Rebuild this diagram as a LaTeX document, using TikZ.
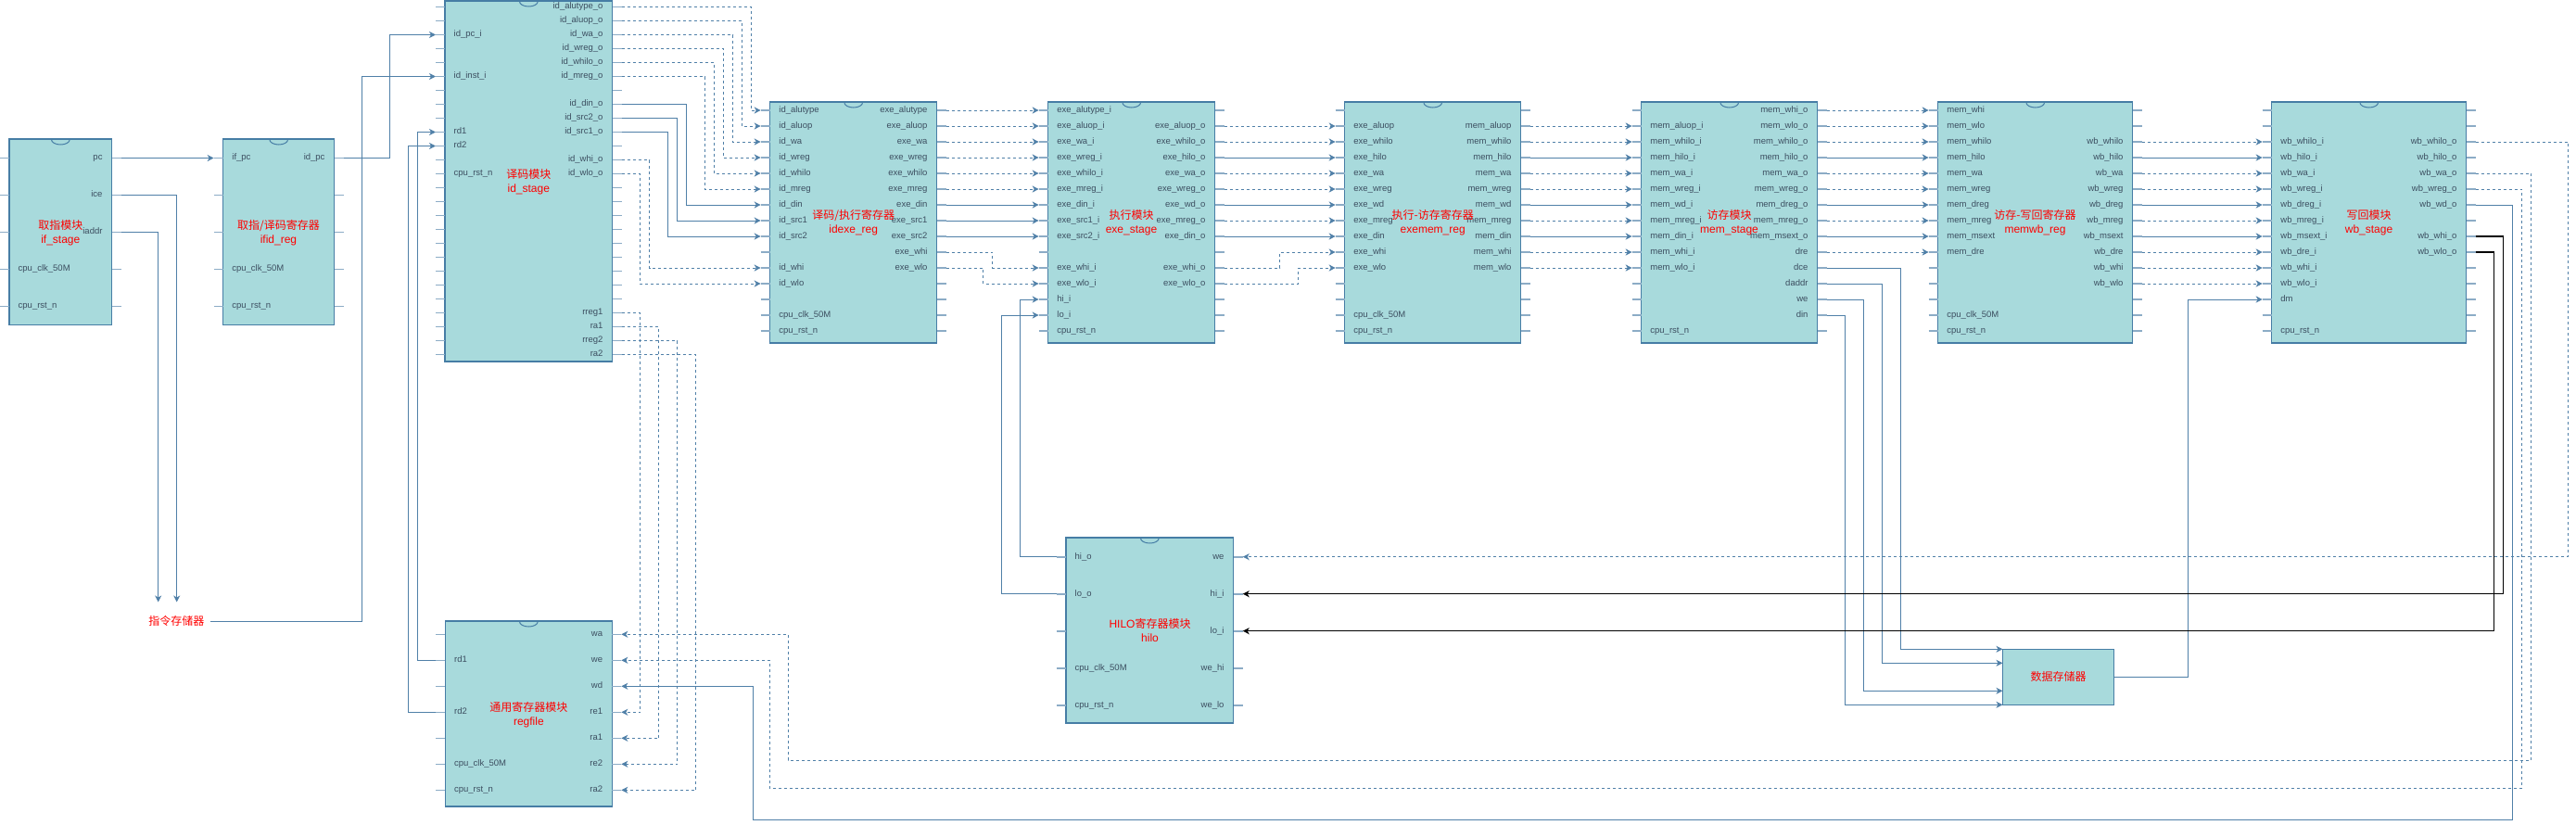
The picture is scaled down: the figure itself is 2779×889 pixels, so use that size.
\documentclass[tikz,border=0pt]{standalone}
\usepackage{fontspec}
\setmainfont{Liberation Sans}
\newfontfamily\cjk{Noto Sans CJK SC}
\usetikzlibrary{calc,arrows.meta}
\definecolor{boxfill}{RGB}{168,218,220}
\definecolor{boxline}{RGB}{70,125,165}
\definecolor{stubc}{RGB}{140,172,198}
\definecolor{sigc}{RGB}{80,128,168}
\definecolor{pintext}{RGB}{60,78,96}
\definecolor{redc}{RGB}{255,0,0}
\tikzset{
  compbox/.style={draw=boxline, fill=boxfill, line width=1.1pt, inner sep=0pt, outer sep=0pt},
  boxedge/.style={draw=boxline, line width=1pt},
  stub/.style={draw=stubc, line width=1.6pt},
  sig/.style={draw=sigc, line width=1pt},
  dsig/.style={sig, dash pattern=on 3pt off 3pt},
  blk/.style={draw=black, line width=1.1pt},
  arr/.style={-{Stealth[length=7pt,width=7pt,inset=2pt]}},
  pinl/.style={text=pintext, font=\fontsize{9.5}{11}\selectfont, inner sep=0pt, text height=6.6pt, text depth=2pt},
  redlab/.style={text=redc, font=\fontsize{12}{15}\selectfont, align=center, inner sep=0pt}
}
\newcommand\comp[8]{%
  \node[compbox, anchor=north west, minimum width={(#4-#2)*1pt}, minimum height={(#5-#3)*1pt}] (#1) at (#2,#3) {};
  \draw[boxedge] ($(#1.north)+(-10,0)$) .. controls ($(#1.north)+(-10,8)$) and ($(#1.north)+(10,8)$) .. ($(#1.north)+(10,0)$);
  \foreach \k in {0,...,#8}{%
    \pgfmathsetmacro\yy{#6+#7*\k}%
    \coordinate (#1-L\k) at (#2-10,\yy);
    \coordinate (#1-R\k) at (#4+10,\yy);
    \draw[stub] (#1-L\k) -- ++(10,0);
    \draw[stub] (#1-R\k) -- ++(-10,0);
  }%
}
\newcommand\lpins[2]{\foreach \i/\t in {#2}{\node[pinl,anchor=west] (#1-lt\i) at ($(#1-L\i)+(19.5,0)$) {\t};}}
\newcommand\rpins[2]{\foreach \i/\t in {#2}{\node[pinl,anchor=east] (#1-rt\i) at ($(#1-R\i)+(-20,0)$) {\t};}}
\begin{document}
\begin{tikzpicture}[x=1pt,y=-1pt]
\path[fill=white] (0,0) rectangle (2779,889);
\useasboundingbox (0,0) rectangle (2779,889);

% ---------- components ----------
\comp{ifs}{10}{150}{120.7}{350.7}{170.5}{40}{4}
\comp{ifid}{240.7}{150}{360.7}{350.7}{170.5}{40}{4}
\comp{ids}{480}{1}{660.7}{390}{7.5}{15}{25}
\comp{ide}{830.7}{110}{1010.7}{370}{119}{17}{14}
\comp{exe}{1130.7}{110}{1310.7}{370}{119}{17}{14}
\comp{exm}{1450.7}{110}{1640.7}{370}{119}{17}{14}
\comp{mem}{1770.7}{110}{1960.7}{370}{119}{17}{14}
\comp{mwb}{2090.7}{110}{2300.7}{370}{119}{17}{14}
\comp{wbs}{2450.7}{110}{2660.7}{370}{119}{17}{14}
\comp{rgf}{480.4}{670}{660.3}{870}{684.3}{28}{6}
\comp{hlo}{1150}{580}{1330.7}{780}{600.7}{40}{4}
\node[compbox, anchor=north west, minimum width=120pt, minimum height=60pt] (dmem) at (2160.5,700.3) {};
\node[redlab] (dmem-t) at (dmem.center) {\cjk 数据存储器};
\node[redlab, inner sep=0pt] (imem) at (190.3,670) {\cjk 指令存储器};

% ---------- pin labels ----------
\lpins{ifs}{3/cpu\_clk\_50M,4/cpu\_rst\_n}
\rpins{ifs}{0/pc,1/ice,2/iaddr}
\lpins{ifid}{0/if\_pc,3/cpu\_clk\_50M,4/cpu\_rst\_n}
\rpins{ifid}{0/id\_pc}
\lpins{ids}{2/id\_pc\_i,5/id\_inst\_i,9/rd1,10/rd2,12/cpu\_rst\_n}
\rpins{ids}{0/id\_alutype\_o,1/id\_aluop\_o,2/id\_wa\_o,3/id\_wreg\_o,4/id\_whilo\_o,5/id\_mreg\_o,7/id\_din\_o,8/id\_src2\_o,9/id\_src1\_o,11/id\_whi\_o,12/id\_wlo\_o,22/rreg1,23/ra1,24/rreg2,25/ra2}
\lpins{ide}{0/id\_alutype,1/id\_aluop,2/id\_wa,3/id\_wreg,4/id\_whilo,5/id\_mreg,6/id\_din,7/id\_src1,8/id\_src2,10/id\_whi,11/id\_wlo,13/cpu\_clk\_50M,14/cpu\_rst\_n}
\rpins{ide}{0/exe\_alutype,1/exe\_aluop,2/exe\_wa,3/exe\_wreg,4/exe\_whilo,5/exe\_mreg,6/exe\_din,7/exe\_src1,8/exe\_src2,9/exe\_whi,10/exe\_wlo}
\lpins{exe}{0/exe\_alutype\_i,1/exe\_aluop\_i,2/exe\_wa\_i,3/exe\_wreg\_i,4/exe\_whilo\_i,5/exe\_mreg\_i,6/exe\_din\_i,7/exe\_src1\_i,8/exe\_src2\_i,10/exe\_whi\_i,11/exe\_wlo\_i,12/hi\_i,13/lo\_i,14/cpu\_rst\_n}
\rpins{exe}{1/exe\_aluop\_o,2/exe\_whilo\_o,3/exe\_hilo\_o,4/exe\_wa\_o,5/exe\_wreg\_o,6/exe\_wd\_o,7/exe\_mreg\_o,8/exe\_din\_o,10/exe\_whi\_o,11/exe\_wlo\_o}
\lpins{exm}{1/exe\_aluop,2/exe\_whilo,3/exe\_hilo,4/exe\_wa,5/exe\_wreg,6/exe\_wd,7/exe\_mreg,8/exe\_din,9/exe\_whi,10/exe\_wlo,13/cpu\_clk\_50M,14/cpu\_rst\_n}
\rpins{exm}{1/mem\_aluop,2/mem\_whilo,3/mem\_hilo,4/mem\_wa,5/mem\_wreg,6/mem\_wd,7/mem\_mreg,8/mem\_din,9/mem\_whi,10/mem\_wlo}
\lpins{mem}{1/mem\_aluop\_i,2/mem\_whilo\_i,3/mem\_hilo\_i,4/mem\_wa\_i,5/mem\_wreg\_i,6/mem\_wd\_i,7/mem\_mreg\_i,8/mem\_din\_i,9/mem\_whi\_i,10/mem\_wlo\_i,14/cpu\_rst\_n}
\rpins{mem}{0/mem\_whi\_o,1/mem\_wlo\_o,2/mem\_whilo\_o,3/mem\_hilo\_o,4/mem\_wa\_o,5/mem\_wreg\_o,6/mem\_dreg\_o,7/mem\_mreg\_o,8/mem\_msext\_o,9/dre,10/dce,11/daddr,12/we,13/din}
\lpins{mwb}{0/mem\_whi,1/mem\_wlo,2/mem\_whilo,3/mem\_hilo,4/mem\_wa,5/mem\_wreg,6/mem\_dreg,7/mem\_mreg,8/mem\_msext,9/mem\_dre,13/cpu\_clk\_50M,14/cpu\_rst\_n}
\rpins{mwb}{2/wb\_whilo,3/wb\_hilo,4/wb\_wa,5/wb\_wreg,6/wb\_dreg,7/wb\_mreg,8/wb\_msext,9/wb\_dre,10/wb\_whi,11/wb\_wlo}
\lpins{wbs}{2/wb\_whilo\_i,3/wb\_hilo\_i,4/wb\_wa\_i,5/wb\_wreg\_i,6/wb\_dreg\_i,7/wb\_mreg\_i,8/wb\_msext\_i,9/wb\_dre\_i,10/wb\_whi\_i,11/wb\_wlo\_i,12/dm,14/cpu\_rst\_n}
\rpins{wbs}{2/wb\_whilo\_o,3/wb\_hilo\_o,4/wb\_wa\_o,5/wb\_wreg\_o,6/wb\_wd\_o,8/wb\_whi\_o,9/wb\_wlo\_o}
\lpins{rgf}{1/rd1,3/rd2,5/cpu\_clk\_50M,6/cpu\_rst\_n}
\rpins{rgf}{0/wa,1/we,2/wd,3/re1,4/ra1,5/re2,6/ra2}
\lpins{hlo}{0/hi\_o,1/lo\_o,3/cpu\_clk\_50M,4/cpu\_rst\_n}
\rpins{hlo}{0/we,1/hi\_i,2/lo\_i,3/we\_hi,4/we\_lo}

% ---------- block titles ----------
\node[redlab] (ifs-t) at (65.3,251) {{\cjk 取指模块}\\if\_stage};
\node[redlab] (ifid-t) at (300.5,251) {{\cjk 取指/译码寄存器}\\ifid\_reg};
\node[redlab] (ids-t) at (570.3,196) {{\cjk 译码模块}\\id\_stage};
\node[redlab] (ide-t) at (920.7,240) {{\cjk 译码/执行寄存器}\\idexe\_reg};
\node[redlab] (exe-t) at (1220.5,240) {{\cjk 执行模块}\\exe\_stage};
\node[redlab] (exm-t) at (1545.7,240) {{\cjk 执行-访存寄存器}\\exemem\_reg};
\node[redlab] (mem-t) at (1865.5,240) {{\cjk 访存模块}\\mem\_stage};
\node[redlab] (mwb-t) at (2195.5,240) {{\cjk 访存-写回寄存器}\\memwb\_reg};
\node[redlab] (wbs-t) at (2555.5,240) {{\cjk 写回模块}\\wb\_stage};
\node[redlab] (rgf-t) at (570.4,771) {{\cjk 通用寄存器模块}\\regfile};
\node[redlab] (hlo-t) at (1240.5,680) {HILO{\cjk 寄存器模块}\\hilo};

% ---------- fetch / decode ----------
\coordinate (ima) at (170.7,649.5);
\coordinate (imb) at (190.7,649.5);
\draw[sig,arr] (ifs-R0) -- (ifid-L0);
\draw[sig,arr] (ifs-R1) -| (imb);
\draw[sig,arr] (ifs-R2) -| (ima);
\draw[sig,arr] ([xshift=6pt]imem.east) -| (390.7,82.5) -- (ids-L5);
\draw[sig,arr] (ifid-R0) -- ++(50,0) |- (ids-L2);
\draw[sig,arr] (rgf-L1) -- ++(-20,0) |- (ids-L9);
\draw[sig,arr] (rgf-L3) -- ++(-30,0) |- (ids-L10);

% id_stage -> idexe_reg
\foreach \a/\b/\d in {0/0/140,1/1/130,2/2/120,3/3/110,4/4/100,5/5/90,11/10/30,12/11/20}
  \draw[dsig,arr] (ids-R\a) -- ++(\d,0) |- (ide-L\b);
\foreach \a/\b/\d in {7/6/70,8/7/60,9/8/50}
  \draw[sig,arr] (ids-R\a) -- ++(\d,0) |- (ide-L\b);
% id_stage -> regfile
\foreach \a/\b/\d in {22/3/20,23/4/40,24/5/60,25/6/80}
  \draw[dsig,arr] (ids-R\a) -- ++(\d,0) |- (rgf-R\b);

% idexe_reg -> exe_stage
\foreach \k in {0,...,5} \draw[dsig,arr] (ide-R\k) -- (exe-L\k);
\foreach \k in {6,7,8} \draw[sig,arr] (ide-R\k) -- (exe-L\k);
\draw[dsig,arr] (ide-R9) -- ++(50,0) |- (exe-L10);
\draw[dsig,arr] (ide-R10) -- ++(40,0) |- (exe-L11);
\draw[sig,arr] (hlo-L0) -- ++(-40,0) |- (exe-L12);
\draw[sig,arr] (hlo-L1) -- ++(-60,0) |- (exe-L13);

% exe_stage -> exemem_reg
\foreach \k in {1,2,4,5,7} \draw[dsig,arr] (exe-R\k) -- (exm-L\k);
\foreach \k in {3,6,8} \draw[sig,arr] (exe-R\k) -- (exm-L\k);
\draw[dsig,arr] (exe-R10) -- ++(60,0) |- (exm-L9);
\draw[dsig,arr] (exe-R11) -- ++(80,0) |- (exm-L10);

% exemem_reg -> mem_stage
\foreach \k in {1,2,4,5,7,9,10} \draw[dsig,arr] (exm-R\k) -- (mem-L\k);
\foreach \k in {3,6,8} \draw[sig,arr] (exm-R\k) -- (mem-L\k);

% mem_stage -> memwb_reg
\foreach \k in {0,1,2,4,5,7,9} \draw[dsig,arr] (mem-R\k) -- (mwb-L\k);
\foreach \k in {3,6,8} \draw[sig,arr] (mem-R\k) -- (mwb-L\k);

% mem_stage -> data memory
\coordinate (dm1) at (dmem.north west);
\coordinate (dm2) at ($(dmem.north west)+(0,15)$);
\coordinate (dm3) at ($(dmem.north west)+(0,45)$);
\coordinate (dm4) at (dmem.south west);
\draw[sig,arr] (mem-R10) -- ++(80,0) |- (dm1);
\draw[sig,arr] (mem-R11) -- ++(60,0) |- (dm2);
\draw[sig,arr] (mem-R12) -- ++(40,0) |- (dm3);
\draw[sig,arr] (mem-R13) -- ++(20,0) |- (dm4);
\draw[sig,arr] (dmem.east) -- ++(80,0) |- (wbs-L12);

% memwb_reg -> wb_stage
\foreach \k in {2,4,5,7,9,10,11} \draw[dsig,arr] (mwb-R\k) -- (wbs-L\k);
\foreach \k in {3,6,8} \draw[sig,arr] (mwb-R\k) -- (wbs-L\k);

% wb_stage feedback
\draw[dsig,arr] (wbs-R2) -- ++(100,0) |- (hlo-R0);
\draw[blk,arr] (wbs-R8) -- ++(30,0) |- (hlo-R1);
\draw[blk,arr] (wbs-R9) -- ++(20,0) |- (hlo-R2);
\draw[dsig,arr] (wbs-R4) -- ++(60,0) |- (850,820.3) |- (rgf-R0);
\draw[dsig,arr] (wbs-R5) -- ++(50,0) |- (830,850.3) |- (rgf-R1);
\draw[sig,arr] (wbs-R6) -- ++(40,0) |- (812,884) |- (rgf-R2);
\end{tikzpicture}
\end{document}
